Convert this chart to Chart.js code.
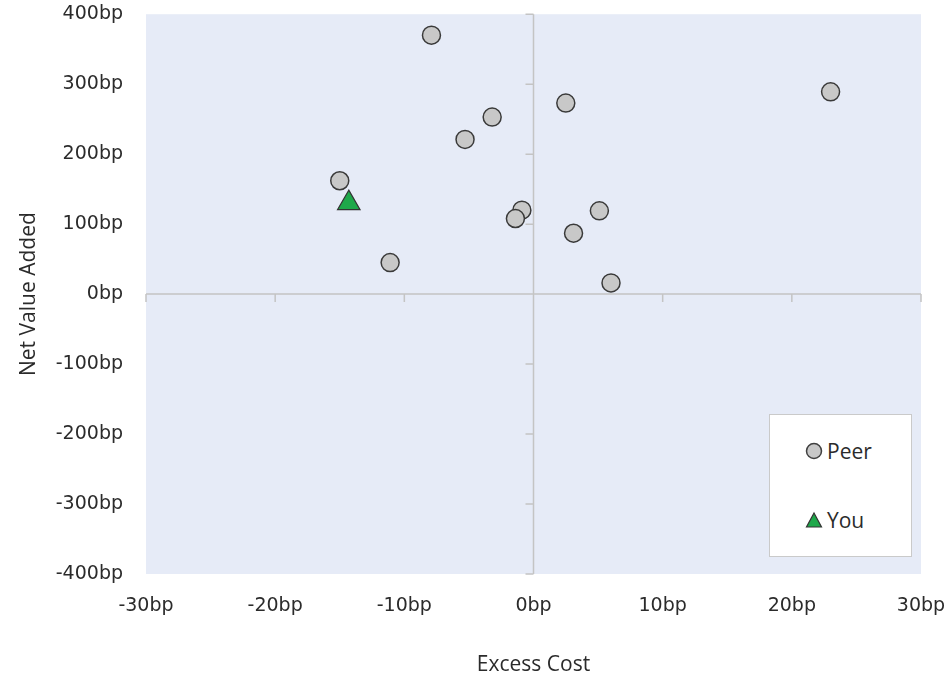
<!DOCTYPE html>
<html>
<head>
<meta charset="utf-8">
<script src="https://cdn.jsdelivr.net/npm/chart.js@4"></script>
<style>
  body { margin: 0; background: #fff; }
  .wrap { position: relative; width: 949px; height: 678px; }
  .legend {
    position: absolute; left: 769px; top: 414px; width: 141px; height: 141px;
    background: #fff; border: 1.5px solid #cacaca;
    font-family: "Open Sans", sans-serif; font-size: 21px; color: #2b2b2b;
  }
  .legend .item { position: absolute; left: 35px; display: flex; align-items: center; line-height: 24px; }
  .legend svg { margin-right: 4px; }
</style>
</head>
<body>
<div class="wrap">
  <canvas class="scatter-chart" width="949" height="678"></canvas>
  <div class="legend">
    <div class="item" style="top: 24px;">
      <svg width="18" height="18"><circle cx="9" cy="9" r="7.5" fill="#c8c8c8" stroke="#404040" stroke-width="1.5"/></svg>Peer
    </div>
    <div class="item" style="top: 93px;">
      <svg width="18" height="18"><polygon points="9,2 16.5,16 1.5,16" fill="#1ea84a" stroke="#333" stroke-width="1.2"/></svg>You
    </div>
  </div>
</div>
<script>
// values (bp)
const peerCost = [-7.9, 23, 2.5, -3.2, -5.3, -15.0, -0.9, -1.4, 5.1, 3.1, -11.1, 6.0];
const peerValue = [370, 289, 273, 253, 221, 162, 120, 108, 119, 87, 45, 16];
const youCost = [-14.3];
const youValue = [130];
const xTicks = [-30, -20, -10, 0, 10, 20, 30];
const yTicks = [-400, -300, -200, -100, 0, 100, 200, 300, 400];

const toPoints = (xs, ys) => xs.map((x, i) => ({ x: x, y: ys[i] }));

// plot background plus Excel style axes crossing at zero
const axesPlugin = {
    id: 'axesPlugin',
    beforeDatasetsDraw(chart) {
        const { ctx, chartArea, scales } = chart;
        ctx.save();
        ctx.fillStyle = '#e6ebf7';
        ctx.fillRect(chartArea.left, chartArea.top, chartArea.right - chartArea.left, chartArea.bottom - chartArea.top);

        const x0 = scales.x.getPixelForValue(0);
        const y0 = scales.y.getPixelForValue(0);
        ctx.strokeStyle = '#c4c4c4';
        ctx.lineWidth = 1.5;
        ctx.beginPath();
        ctx.moveTo(chartArea.left, y0);
        ctx.lineTo(chartArea.right, y0);
        ctx.moveTo(x0, chartArea.top);
        ctx.lineTo(x0, chartArea.bottom);
        xTicks.forEach(v => {
            const px = scales.x.getPixelForValue(v);
            ctx.moveTo(px, y0);
            ctx.lineTo(px, y0 + 8);
        });
        yTicks.forEach(v => {
            const py = scales.y.getPixelForValue(v);
            ctx.moveTo(x0 - 8, py);
            ctx.lineTo(x0, py);
        });
        ctx.stroke();
        ctx.restore();
    }
};

const ctx = document.querySelector('.scatter-chart');

new Chart(ctx, {
    type: 'scatter',
    data: {
        datasets: [{
            label: 'Peer',
            data: toPoints(peerCost, peerValue),
            pointStyle: 'circle',
            pointRadius: 9,
            pointBackgroundColor: '#c8c8c8',
            pointBorderColor: '#3a3a3a',
            pointBorderWidth: 1.5
        },
        {
            label: 'You',
            data: toPoints(youCost, youValue),
            pointStyle: 'triangle',
            pointRadius: 13,
            pointBackgroundColor: '#1ea84a',
            pointBorderColor: '#333333',
            pointBorderWidth: 1.2
        }
        ]
    },
    options: {
        responsive: false,
        animation: false,
        layout: {
            padding: { top: 14, right: 28, left: 0, bottom: 0 }
        },
        scales: {
            x: {
                type: 'linear',
                min: -30,
                max: 30,
                afterBuildTicks: s => { s.ticks = xTicks.map(v => ({ value: v })); },
                // fixed box so the plot area matches the reference
                afterFit: s => { s.height = 104; s.paddingLeft = 0; s.paddingRight = 0; },
                grid: { display: false },
                border: { display: false },
                ticks: {
                    padding: 13,
                    color: '#2b2b2b',
                    font: { family: 'DejaVu Sans', size: 19 },
                    callback: v => v + 'bp'
                },
                title: {
                    display: true,
                    text: 'Excess Cost',
                    color: '#2b2b2b',
                    font: { family: 'Open Sans', size: 21 },
                    padding: { top: 0, bottom: 0 }
                }
            },
            y: {
                type: 'linear',
                min: -400,
                max: 400,
                afterBuildTicks: s => { s.ticks = yTicks.map(v => ({ value: v })); },
                afterFit: s => { s.width = 146; s.paddingTop = 0; s.paddingBottom = 0; },
                grid: { display: false },
                border: { display: false },
                ticks: {
                    padding: 15,
                    color: '#2b2b2b',
                    font: { family: 'DejaVu Sans', size: 19 },
                    callback: v => v + 'bp'
                },
                title: {
                    display: true,
                    text: 'Net Value Added',
                    color: '#2b2b2b',
                    font: { family: 'Open Sans', size: 21 },
                    padding: { top: 16, bottom: 0 }
                }
            }
        },
        plugins: {
            legend: { display: false },
            tooltip: { enabled: false }
        }
    },
    plugins: [axesPlugin]
});
</script>
</body>
</html>
